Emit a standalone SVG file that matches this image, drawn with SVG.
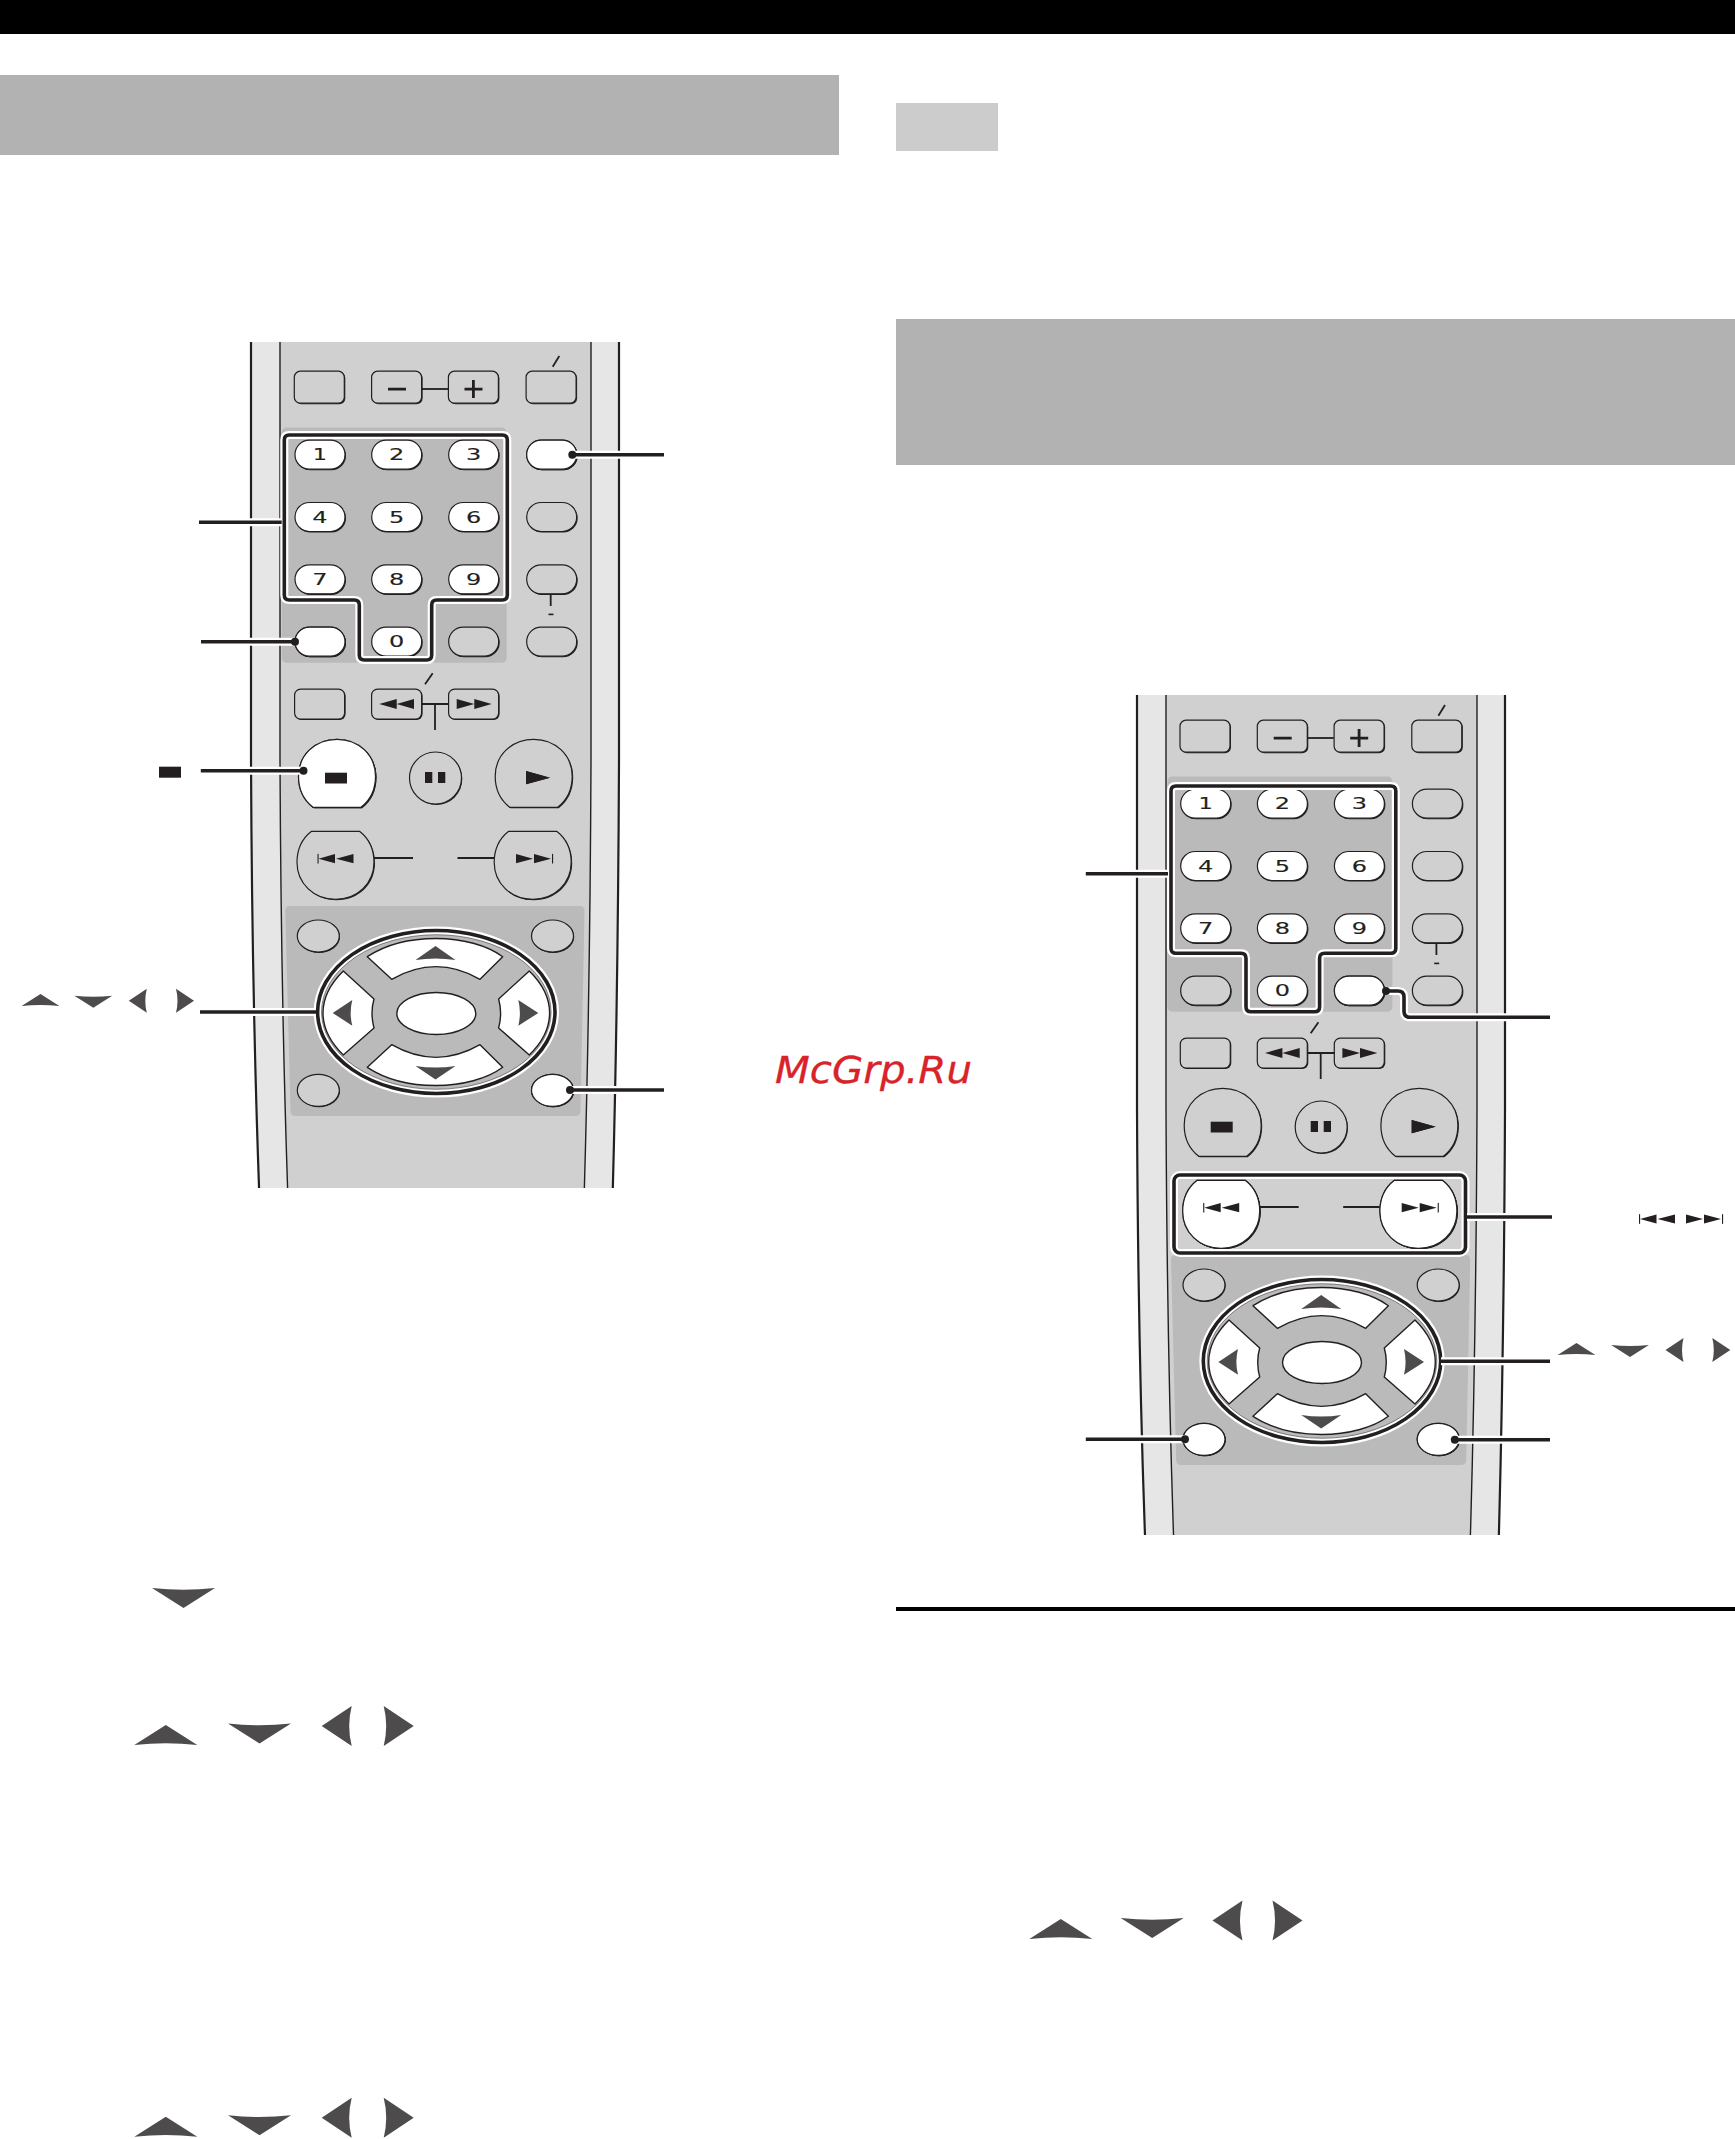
<svg xmlns="http://www.w3.org/2000/svg" xmlns:xlink="http://www.w3.org/1999/xlink" width="1735" height="2139" viewBox="0 0 1735 2139">
<style>
.sh{fill:#231f20}
.k{stroke:#231f20;stroke-width:1.2}
.g{fill:#d0d0d0}
.w{fill:#fff}
.ink{fill:#231f20;stroke:none}
.arr{fill:#4d4b4c;stroke:none}
.ln{fill:none;stroke:#231f20;stroke-width:1.8}
.halo{fill:none;stroke:#fff;stroke-width:8;stroke-linejoin:round}
.thick{fill:none;stroke:#231f20;stroke-width:3.6;stroke-linejoin:round}
.dot{fill:#231f20;stroke:none}
.num{font-family:"DejaVu Sans",sans-serif;font-size:15px;fill:#231f20;stroke:#231f20;stroke-width:.12;text-anchor:middle}
.wm{font-family:"DejaVu Sans",sans-serif;font-style:italic;font-size:36.6px;fill:#d8232a;stroke:#d8232a;stroke-width:.3}
</style>
<defs>
<clipPath id="c1"><rect x="230" y="342" width="410" height="846"/></clipPath>
<clipPath id="c2"><rect x="230" y="346" width="410" height="840"/></clipPath>
<g id="pill"><rect class="sh" x="-24" y="-13.4" width="50" height="29" rx="14.5"/><rect class="k" x="-25" y="-14.5" width="50" height="29" rx="14.5"/></g>
<g id="box"><rect class="sh" x="-24.4" y="-15.4" width="50" height="32" rx="6"/><rect class="k" x="-25.4" y="-16.4" width="50" height="32" rx="6"/></g>
<g id="boxs"><rect class="sh" x="-24.4" y="-14.2" width="50" height="30" rx="6"/><rect class="k" x="-25.4" y="-15.2" width="50" height="30" rx="6"/></g>
<g id="disc"><ellipse class="sh" cx=".7" cy=".9" rx="21" ry="16"/><ellipse class="k" rx="21" ry="16"/></g>
<path id="ovalp" d="M-24 34C-33 27-38.500 17-38.500 3C-38.500-18-22-34 0-34C22-34 38.500-18 38.500 3C38.500 17 33 27 24 34Z"/>
<g id="ovalB"><use href="#ovalp" class="sh" x="1" y="1"/><use href="#ovalp" class="k"/></g>
<g id="ovalT" transform="scale(1,-1)"><use href="#ovalp" class="sh" x="1" y="-1"/><use href="#ovalp" class="k"/></g>
<path id="aU" d="M0-10L31.5 10Q0 6.5-31.5 10Z"/>
<path id="aD" d="M0 10L31.5-10Q0-6.5-31.5-10Z"/>
<path id="aL" d="M-15 0L15-20Q10 0 15 20Z"/>
<path id="aR" d="M15 0L-15-20Q-10 0-15 20Z"/>
<g id="prevI"><rect class="ink" x="0" y="-4.8" width="1.1" height="9.6"/><path class="ink" d="M1 0L17.5-4.6V4.6ZM18.5 0L36-4.6V4.6Z"/></g>
<g id="nextI"><path class="ink" d="M17 0L0-4.6V4.6ZM35 0L18-4.6V4.6Z"/><rect class="ink" x="36" y="-4.8" width="1.1" height="9.6"/></g>
<path id="f1" d="M289.300 435H502.300Q507.300 435 507.300 440V595Q507.300 600 502.300 600H436.700Q431.700 600 431.700 605V655Q431.700 660 426.700 660H364.300Q359.300 660 359.300 655V605Q359.300 600 354.300 600H289.300Q284.300 600 284.300 595V440Q284.300 435 289.300 435Z"/>
<path id="f2" d="M1176 786H1390.800Q1395.800 786 1395.800 791V948.300Q1395.800 953.300 1390.800 953.300H1324.600Q1319.600 953.300 1319.600 958.300V1006.700Q1319.600 1011.700 1314.600 1011.700H1251Q1246 1011.700 1246 1006.700V958.300Q1246 953.300 1241 953.300H1176Q1171 953.300 1171 948.300V791Q1171 786 1176 786Z"/>
<rect id="f3" x="1174" y="1175" width="291.500" height="78" rx="6"/>
<g id="body">
<path fill="#e6e6e6" stroke="#231f20" stroke-width="2.200" d="M251 330L251 760Q252 1000 259.500 1200L612.500 1200Q618 1000 619 760L619 330Z"/>
<path fill="#d0d0d0" stroke="#231f20" stroke-width="1.400" d="M280 330L280 760Q281 1000 288 1200L584 1200Q590 1000 591 760L591 330Z"/>
</g>
<g id="keys">
<rect x="281.700" y="427.500" width="225" height="235.200" rx="5" fill="#bababa"/>
<path fill="#bababa" d="M290 906H580Q584.500 906 584.500 911L580.500 1111Q580.500 1116 575 1116H295.500Q290.500 1116 290.500 1111L285.300 911Q285.300 906 290 906Z"/>
<use href="#box" class="g" x="319.700" y="387.600"/>
<use href="#box" class="g" x="397" y="387.600"/>
<use href="#box" class="g" x="473.800" y="387.600"/>
<use href="#box" class="g" x="551.500" y="387.600"/>
<path class="ln" d="M422 389H448M397 389"/>
<path class="ink" d="M388 387.700h18v2.700h-18zM472 380h2.800v18h-2.800zM464.500 387.700h18v2.700h-18z"/>
<path class="ln" d="M552.700 366.700L559.300 356" stroke-width="1.100"/>
<use href="#pill" class="w" x="320" y="454.700"/><use href="#pill" class="w" x="396.700" y="454.700"/><use href="#pill" class="w" x="473.700" y="454.700"/><use href="#pill" class="g" x="551.700" y="454.700"/>
<use href="#pill" class="w" x="320" y="517"/><use href="#pill" class="w" x="396.700" y="517"/><use href="#pill" class="w" x="473.700" y="517"/><use href="#pill" class="g" x="551.700" y="517"/>
<use href="#pill" class="w" x="320" y="579.300"/><use href="#pill" class="w" x="396.700" y="579.300"/><use href="#pill" class="w" x="473.700" y="579.300"/><use href="#pill" class="g" x="551.700" y="579.300"/>
<use href="#pill" class="g" x="320" y="641.700"/><use href="#pill" class="w" x="396.700" y="641.700"/><use href="#pill" class="g" x="473.700" y="641.700"/><use href="#pill" class="g" x="551.700" y="641.700"/>
<path class="ln" d="M550.700 595V606" stroke-width="2.400"/>
<rect class="ink" x="548.500" y="613.600" width="5" height="1.600"/>
<use href="#boxs" class="g" x="320" y="704.300"/>
<use href="#boxs" class="g" x="397" y="704.300"/>
<use href="#boxs" class="g" x="474" y="704.300"/>
<path class="ln" d="M422 704H449M435 704V730"/>
<path class="ln" d="M425 684.300L432.700 673.300" stroke-width="1.100"/>
<path class="ink" d="M379.300 704L396.700 699V709ZM396.700 704L414 699V709ZM491.700 704L474.300 699V709ZM474.300 704L456.700 699V709Z"/>
<use href="#ovalB" class="g" x="337" y="773.300"/>
<ellipse class="sh" cx="436.300" cy="779" rx="26" ry="26"/>
<ellipse class="k g" cx="435.500" cy="778" rx="26" ry="26"/>
<use href="#ovalB" class="g" x="533.700" y="773.300"/>
<rect class="ink" x="425" y="772" width="7.300" height="11"/><rect class="ink" x="438" y="772" width="7.300" height="11"/>
<path class="ink" d="M526 771L550 777.700L526 784.300Z"/>
<use href="#ovalT" class="g" transform="translate(335.500,865.300)"/>
<use href="#ovalT" class="g" transform="translate(532.700,865.300)"/>
<path class="ln" d="M374 858H413M457.500 858H494"/>
<use href="#disc" class="g" x="318.300" y="936"/>
<use href="#disc" class="g" x="552.500" y="936"/>
<use href="#disc" class="g" x="318.300" y="1090.300"/>
<use href="#disc" class="g" x="552.500" y="1090.300"/>
<ellipse cx="436.300" cy="1012" rx="118.700" ry="81.500" fill="#bababa" stroke="#fff" stroke-width="8"/>
<ellipse cx="436.300" cy="1012" rx="118.700" ry="81.500" fill="none" stroke="#231f20" stroke-width="3.600"/>
<ellipse cx="436.300" cy="1012" rx="116" ry="78.500" fill="#fff"/>
<ellipse cx="436.300" cy="1012" rx="114.800" ry="77.300" fill="#bababa" stroke="#231f20" stroke-width=".5"/>
<g fill="#fff" stroke="#231f20" stroke-width="1.400" stroke-linejoin="round">
<path d="M367.300 956.700C385 945 410 938.500 436 938.500C462 938.500 487 945 502.700 956.700L480 979.300Q436 954 391.700 979.300Z"/>
<path d="M367.300 1067.300C385 1079 410 1085.500 436 1085.500C462 1085.500 487 1079 502.700 1067.300L480 1044.700Q436 1070 391.700 1044.700Z"/>
<path d="M343.300 971L374 999Q370 1013 374 1028L343.300 1055C330 1042 323 1028 323 1013C323 998 330 984 343.300 971Z"/>
<path d="M529.300 971L498.600 999Q502.600 1013 498.600 1028L529.300 1055C542.600 1042 549.600 1028 549.600 1013C549.600 998 542.600 984 529.300 971Z"/>
<ellipse cx="436.300" cy="1013.500" rx="39.500" ry="21"/>
</g>
<path class="arr" d="M435.500 946L455.500 960Q435.500 957 415.500 960ZM435.500 1079.500L455.500 1066Q435.500 1069 415.500 1066ZM332.700 1013L352.300 1000Q349 1013 352.300 1025.700ZM538.300 1013L518.300 1000Q521.500 1013 518.300 1025.700Z"/>
</g>
</defs>

<rect width="1735" height="2139" fill="#fff"/>
<g id="headers">
<rect x="0" y="0" width="1735" height="34" fill="#000"/>
<rect x="0" y="75" width="839" height="80" fill="#b2b2b2"/>
<rect x="896" y="103" width="102" height="48" fill="#cccccc"/>
<rect x="896" y="319" width="839" height="146" fill="#b2b2b2"/>
<rect x="896" y="1607" width="839" height="4" fill="#000"/>
</g>

<g id="remote-left">
<g clip-path="url(#c1)"><use href="#body"/></g>
<use href="#keys"/>
<g id="left-highlights">
<use href="#pill" class="w" x="551.700" y="454.700"/>
<use href="#pill" class="w" x="320" y="641.700"/>
<use href="#ovalB" class="w" x="337" y="773.300"/>
<use href="#disc" class="w" x="552.500" y="1090.300"/>
</g>
<g id="left-icons">
<rect class="ink" x="325" y="772.700" width="22" height="10.800"/>
<path class="ink" d="M526 771L550 777.700L526 784.300Z"/>
<use href="#prevI" x="317.500" y="858.700"/>
<use href="#nextI" x="516" y="858.700"/>
</g>
<g id="left-digits">
<text class="num" transform="translate(320,460.200) scale(1.500,1)">1</text>
<text class="num" transform="translate(396.700,460.200) scale(1.600,1)">2</text>
<text class="num" transform="translate(473.700,460.200) scale(1.600,1)">3</text>
<text class="num" transform="translate(320,522.500) scale(1.600,1)">4</text>
<text class="num" transform="translate(396.700,522.500) scale(1.600,1)">5</text>
<text class="num" transform="translate(473.700,522.500) scale(1.600,1)">6</text>
<text class="num" transform="translate(320,584.800) scale(1.600,1)">7</text>
<text class="num" transform="translate(396.700,584.800) scale(1.600,1)">8</text>
<text class="num" transform="translate(473.700,584.800) scale(1.600,1)">9</text>
<text class="num" transform="translate(396.700,647.200) scale(1.600,1)">0</text>
</g>
<use href="#f1" class="halo"/><use href="#f1" class="thick"/>
</g>

<g id="remote-right">
<g transform="translate(886,349)" clip-path="url(#c2)"><use href="#body"/></g>
<g transform="translate(885.700,349)">
<use href="#keys"/>
<g id="right-highlights">
<use href="#pill" class="w" x="473.700" y="641.700"/>
<use href="#ovalT" class="w" transform="translate(335.500,865.300)"/>
<use href="#ovalT" class="w" transform="translate(532.700,865.300)"/>
<use href="#disc" class="w" x="318.300" y="1090.300"/>
<use href="#disc" class="w" x="552.500" y="1090.300"/>
</g>
<g id="right-icons">
<rect class="ink" x="325" y="772.700" width="22" height="10.800"/>
<path class="ink" d="M526 771L550 777.700L526 784.300Z"/>
<use href="#prevI" x="317.500" y="858.700"/>
<use href="#nextI" x="516" y="858.700"/>
</g>
<g id="right-digits">
<text class="num" transform="translate(320,460.200) scale(1.500,1)">1</text>
<text class="num" transform="translate(396.700,460.200) scale(1.600,1)">2</text>
<text class="num" transform="translate(473.700,460.200) scale(1.600,1)">3</text>
<text class="num" transform="translate(320,522.500) scale(1.600,1)">4</text>
<text class="num" transform="translate(396.700,522.500) scale(1.600,1)">5</text>
<text class="num" transform="translate(473.700,522.500) scale(1.600,1)">6</text>
<text class="num" transform="translate(320,584.800) scale(1.600,1)">7</text>
<text class="num" transform="translate(396.700,584.800) scale(1.600,1)">8</text>
<text class="num" transform="translate(473.700,584.800) scale(1.600,1)">9</text>
<text class="num" transform="translate(396.700,647.200) scale(1.600,1)">0</text>
</g>
</g>
<use href="#f2" class="halo"/><use href="#f2" class="thick"/>
<use href="#f3" class="halo"/><use href="#f3" class="thick"/>
</g>

<g id="connectors">
<path class="halo" d="M572 454.700H664M199 522.300H281M201 641.700H295M200.800 770.700H303.500M200 1012H316M570 1090H664M1085.800 873.700H1168M1386 991H1398Q1404 991 1404 997V1011Q1404 1017.300 1410 1017.300H1550M1467 1217H1552M1441 1361.300H1550M1085.800 1439.300H1185M1454.800 1439.700H1550"/>
<path class="thick" d="M572.300 454.700H664"/>
<path class="thick" d="M199 522.300H281.700"/>
<path class="thick" d="M201 641.700H295"/>
<path class="thick" d="M200.800 770.700H303.500"/>
<path class="thick" d="M200 1012H316.600"/>
<path class="thick" d="M570 1090H664"/>
<path class="thick" d="M1085.800 873.700H1168"/>
<path class="thick" d="M1386 991H1398Q1404 991 1404 997V1011Q1404 1017.300 1410 1017.300H1550"/>
<path class="thick" d="M1467 1217H1552"/>
<path class="thick" d="M1441 1361.300H1550"/>
<path class="thick" d="M1085.800 1439.300H1185"/>
<path class="thick" d="M1454.800 1439.700H1550"/>
<g id="connector-dots">
<circle class="dot" cx="572.300" cy="454.700" r="4"/>
<circle class="dot" cx="295" cy="641.700" r="4"/>
<circle class="dot" cx="303.500" cy="770.700" r="4"/>
<circle class="dot" cx="570" cy="1090" r="4"/>
<circle class="dot" cx="1386" cy="991" r="4"/>
<circle class="dot" cx="1185" cy="1439.300" r="4"/>
<circle class="dot" cx="1454.800" cy="1439.700" r="4"/>
</g>
</g>

<g id="callout-symbols">
<rect class="ink" x="159" y="766.700" width="22" height="11"/>
<g class="arr">
<use href="#aU" transform="translate(40.500,1000) scale(.6)"/>
<use href="#aD" transform="translate(93.300,1001.700) scale(.6)"/>
<use href="#aL" transform="translate(137.800,1000.700) scale(.6)"/>
<use href="#aR" transform="translate(185,1000.700) scale(.6)"/>
<use href="#aU" transform="translate(1576.500,1349) scale(.6)"/>
<use href="#aD" transform="translate(1630,1351) scale(.6)"/>
<use href="#aL" transform="translate(1674.500,1350) scale(.6)"/>
<use href="#aR" transform="translate(1721.300,1350) scale(.6)"/>
</g>
<use href="#prevI" x="1639" y="1219"/>
<use href="#nextI" x="1686" y="1219"/>
</g>

<g id="inline-arrows" class="arr">
<use href="#aD" x="183.500" y="1598"/>
<use href="#aU" x="165.800" y="1735"/>
<use href="#aD" x="259.500" y="1733.500"/>
<use href="#aL" x="336.700" y="1726"/>
<use href="#aR" x="398.700" y="1726"/>
<use href="#aU" x="165.800" y="2126.800"/>
<use href="#aD" x="259.500" y="2125.300"/>
<use href="#aL" x="336.700" y="2117.800"/>
<use href="#aR" x="398.700" y="2117.800"/>
<use href="#aU" x="1060.800" y="1929"/>
<use href="#aD" x="1152.200" y="1928"/>
<use href="#aL" x="1227.500" y="1920.500"/>
<use href="#aR" x="1287.500" y="1920.500"/>
</g>

<text id="watermark" class="wm" x="775" y="1082.700" textLength="197" lengthAdjust="spacingAndGlyphs">McGrp.Ru</text>
</svg>
